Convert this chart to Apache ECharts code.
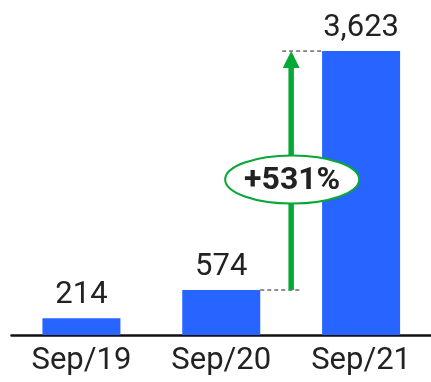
<!DOCTYPE html>
<html>
<head>
<meta charset="utf-8">
<style>
  html, body { margin: 0; padding: 0; background: #fff; }
  #chart { width: 431px; height: 382px; }
</style>
<script src="https://cdn.jsdelivr.net/npm/echarts@6/dist/echarts.min.js"></script>
</head>
<body>
<div id="chart"></div>
<script>
// Quarterly totals
const categories = ['Sep/19', 'Sep/20', 'Sep/21'];
const values = [214, 574, 3623];
const growthLabel = '+531%';

const BLUE = '#2864ff';
const GREEN = '#08a837';
const INK = '#222222';
const FONT = 'Roboto, "Noto Sans", sans-serif';

const chart = echarts.init(document.getElementById('chart'), null, { renderer: 'canvas' });

chart.setOption({
  animation: false,
  grid: { left: 11.5, width: 423, top: 21.5, height: 313.5 },
  xAxis: {
    type: 'category',
    data: categories,
    axisLine: { lineStyle: { color: '#111', width: 2.5 } },
    axisTick: { show: false },
    axisLabel: { color: INK, fontSize: 31, fontFamily: FONT, margin: 11 }
  },
  yAxis: {
    type: 'value',
    min: 0,
    max: 4000,
    show: false,
    splitLine: { show: false }
  },
  series: [{
    type: 'bar',
    data: values,
    barWidth: 78,
    itemStyle: { color: BLUE },
    label: {
      show: true,
      position: 'top',
      distance: 7,
      color: INK,
      fontSize: 31,
      fontFamily: FONT,
      formatter: p => p.value.toLocaleString('en-US')
    }
  }]
});

// Growth arrow between the last two bars, anchored to their values
function drawGrowth() {
  const pPrev = chart.convertToPixel({ seriesIndex: 0 }, [1, values[1]]);
  const pLast = chart.convertToPixel({ seriesIndex: 0 }, [2, values[2]]);
  const half = 39;
  const ax = (pPrev[0] + pLast[0]) / 2;
  const yLow = pPrev[1];
  const yHigh = pLast[1];
  const headH = 17, headW = 17;
  const midY = (yLow + yHigh) / 2 + 9;

  chart.setOption({
    graphic: [
      { type: 'line', shape: { x1: pPrev[0] + half, y1: yLow, x2: ax + 10, y2: yLow },
        style: { stroke: '#222', lineWidth: 1, lineDash: [4, 3] }, z: 10 },
      { type: 'line', shape: { x1: ax - 9, y1: yHigh, x2: pLast[0] - half, y2: yHigh },
        style: { stroke: '#222', lineWidth: 1, lineDash: [4, 3] }, z: 10 },
      { type: 'rect', shape: { x: ax - 2.75, y: yHigh + headH - 1, width: 5.5, height: yLow - yHigh - headH + 1 },
        style: { fill: GREEN }, z: 11 },
      { type: 'polygon', shape: { points: [[ax, yHigh], [ax - headW / 2, yHigh + headH], [ax + headW / 2, yHigh + headH]] },
        style: { fill: GREEN }, z: 11 },
      { type: 'ellipse', shape: { cx: ax + 1, cy: midY, rx: 67, ry: 24 },
        style: { fill: '#fff', stroke: GREEN, lineWidth: 2 }, z: 12 },
      { type: 'text', x: ax + 1, y: midY + 1,
        style: { text: growthLabel, fill: INK, font: 'bold 32px ' + FONT, align: 'center', verticalAlign: 'middle' }, z: 13 }
    ]
  });
}
drawGrowth();
</script>
</body>
</html>
